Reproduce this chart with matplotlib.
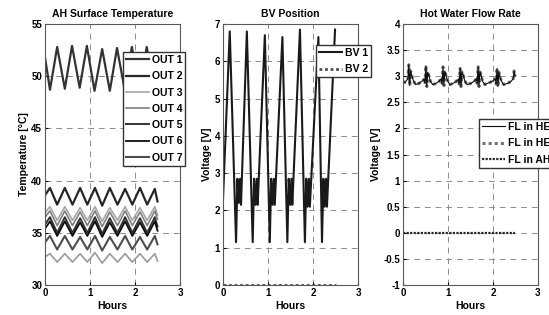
"""Tres paneles: temperatura superficial, posicion de valvulas y caudal de agua caliente."""

import matplotlib
matplotlib.use("Agg")
import matplotlib.pyplot as plt
from matplotlib.ticker import FormatStrFormatter

# --- Datos (horas / valores) ---
# Panel 1: curva superior (OUT 1), extremos de la oscilacion.
t_top = [0, 0.11, 0.27, 0.44, 0.60, 0.77, 0.93, 1.10, 1.27, 1.44, 1.60, 1.77, 1.93, 2.10, 2.26, 2.43, 2.50]
out_top = [51.8, 48.7, 52.8, 48.8, 52.9, 48.9, 52.9, 48.6, 52.6, 48.6, 52.7, 48.7, 52.8, 48.7, 52.8, 48.8, 50.0]

# Panel 1: curvas inferiores, todas en fase.
t_low = [0, 0.11, 0.27, 0.44, 0.61, 0.78, 0.94, 1.11, 1.27, 1.44, 1.61, 1.78, 1.94, 2.11, 2.27, 2.44, 2.50]
out_a = [38.6, 39.3, 37.7, 39.3, 37.7, 39.3, 37.7, 39.3, 37.6, 39.3, 37.7, 39.2, 37.7, 39.3, 37.7, 39.2, 38.0]
out_b = [36.9, 37.5, 36.2, 37.5, 36.2, 37.4, 36.2, 37.5, 36.1, 37.4, 36.2, 37.5, 36.2, 37.4, 36.2, 37.5, 36.7]
out_c = [36.5, 37.1, 35.7, 37.1, 35.7, 37.0, 35.7, 37.1, 35.6, 37.0, 35.7, 37.1, 35.7, 37.0, 35.7, 37.1, 36.3]
out_d = [35.8, 36.5, 35.0, 36.5, 35.0, 36.4, 35.0, 36.5, 34.9, 36.4, 35.0, 36.5, 35.0, 36.4, 35.0, 36.5, 35.6]
out_e = [35.4, 36.1, 34.7, 36.1, 34.7, 36.0, 34.7, 36.1, 34.6, 36.0, 34.7, 36.1, 34.7, 36.0, 34.7, 36.1, 35.2]
out_f = [34.1, 34.7, 33.4, 34.7, 33.4, 34.6, 33.4, 34.7, 33.3, 34.6, 33.4, 34.7, 33.4, 34.6, 33.4, 34.7, 33.9]
out_g = [32.7, 33.0, 32.2, 33.0, 32.2, 33.0, 32.2, 33.1, 32.1, 33.0, 32.2, 33.0, 32.2, 33.0, 32.2, 33.0, 32.3]
out_labels = ["OUT 1", "OUT 2", "OUT 3", "OUT 4", "OUT 5", "OUT 6", "OUT 7"]

# Panel 2: BV 1 (diente de sierra con pequena joroba tras cada minimo) y BV 2 en cero.
t_bv = [0, 0.15, 0.29, 0.32, 0.35, 0.38, 0.40, 0.53, 0.66, 0.69, 0.72, 0.75, 0.77, 0.93,
        1.04, 1.07, 1.10, 1.13, 1.15, 1.32, 1.43, 1.46, 1.49, 1.52, 1.54, 1.71,
        1.82, 1.85, 1.88, 1.91, 1.93, 2.12, 2.20, 2.23, 2.26, 2.29, 2.31, 2.49]
bv1 = [2.3, 6.8, 1.15, 2.85, 2.2, 2.85, 2.15, 6.8, 1.15, 2.85, 2.15, 2.85, 2.15, 6.7,
       1.15, 2.85, 2.15, 2.85, 2.15, 6.65, 1.15, 2.85, 2.15, 2.85, 2.15, 6.85,
       1.15, 2.85, 2.1, 2.85, 2.1, 6.65, 1.15, 2.85, 2.1, 2.85, 2.1, 6.85]
t_zero = [0, 2.5]
bv2 = [0, 0]

# Panel 3: caudal en HE con picos periodicos, caudal en AH en cero.
t_fl = [0, 0.04, 0.08, 0.11, 0.13, 0.15, 0.17, 0.20, 0.23, 0.28, 0.35, 0.42, 0.47, 0.49,
        0.51, 0.53, 0.55, 0.58, 0.61, 0.66, 0.73, 0.80, 0.85, 0.87, 0.89, 0.91, 0.93,
        0.96, 0.99, 1.04, 1.11, 1.18, 1.23, 1.25, 1.27, 1.29, 1.31, 1.34, 1.37, 1.42,
        1.50, 1.58, 1.63, 1.65, 1.67, 1.69, 1.71, 1.74, 1.77, 1.82, 1.90, 1.98, 2.05,
        2.07, 2.09, 2.11, 2.13, 2.16, 2.19, 2.24, 2.32, 2.40, 2.45, 2.47, 2.49]
fl_he = [2.90, 2.88, 2.92, 2.95, 3.22, 2.82, 3.10, 3.00, 2.92, 2.84, 2.86, 2.90, 2.94, 2.86,
         3.20, 2.80, 3.08, 3.00, 2.90, 2.84, 2.86, 2.90, 2.95, 2.86, 3.18, 2.82, 3.10,
         3.00, 2.92, 2.84, 2.86, 2.90, 2.94, 2.85, 3.15, 2.80, 3.08, 3.02, 2.92, 2.84,
         2.86, 2.90, 2.95, 2.86, 3.18, 2.80, 3.10, 3.00, 2.90, 2.84, 2.87, 2.90, 2.95,
         2.85, 3.15, 2.80, 3.08, 2.98, 2.90, 2.84, 2.86, 2.90, 2.95, 3.10, 3.00]
fl_ah = [0, 0]


def style_axes(ax, ylim, yticks, title, ylabel):
    """Aplica el aspecto tipo MATLAB a un panel."""
    ax.set_xlim(0, 3)
    ax.set_xticks([0, 1, 2, 3])
    ax.set_ylim(*ylim)
    ax.set_yticks(yticks)
    ax.yaxis.set_major_formatter(FormatStrFormatter("%g"))
    ax.grid(True, linestyle=(0, (6, 5)), color="0.55", linewidth=0.7)
    ax.set_axisbelow(True)
    ax.tick_params(direction="in", length=2, labelsize=7, pad=2)
    for spine in ax.spines.values():
        spine.set_color("0.35")
        spine.set_linewidth(0.8)
    ax.set_title(title, fontsize=7.5, fontweight="bold", pad=5)
    ax.set_xlabel("Hours", fontsize=7.5, fontweight="bold", labelpad=2)
    ax.set_ylabel(ylabel, fontsize=7.5, fontweight="bold", labelpad=2)


def legend_kw():
    return dict(fontsize=7.5, frameon=True, fancybox=False, edgecolor="0.2",
                framealpha=1, borderpad=0.3, handlelength=2.2, handletextpad=0.25,
                labelspacing=0.6, borderaxespad=0)


def main() -> None:
    plt.rcParams["font.family"] = ["Liberation Sans", "DejaVu Sans"]
    plt.rcParams["font.weight"] = "bold"
    plt.rcParams["axes.unicode_minus"] = False

    fig = plt.figure(figsize=(5.49, 3.15), dpi=100)
    w, h, b = 0.2459, 0.8286, 0.0952
    ax1 = fig.add_axes([0.082, b, w, h])
    ax2 = fig.add_axes([0.4062, b, w, h])
    ax3 = fig.add_axes([0.734, b, w, h])

    # --- Panel 1 ---
    series = [(t_top, out_top, "0.2", "-", 1.6),
              (t_low, out_a, "0.15", "-", 1.6),
              (t_low, out_b, "0.65", "-", 1.2),
              (t_low, out_c, "0.5", "-", 1.2),
              (t_low, out_d, "0.2", "-", 1.4),
              (t_low, out_e, "0.05", "-", 1.3),
              (t_low, out_f, "0.3", "-", 1.5),
              (t_low, out_g, "0.6", "-", 1.2)]
    lines = []
    for t, v, c, ls, lw in series:
        (ln,) = ax1.plot(t, v, color=c, linestyle=ls, linewidth=lw)
        lines.append(ln)
    style_axes(ax1, (30, 55), [30, 35, 40, 45, 50, 55], "AH Surface Temperature", "Temperature [°C]")
    ax1.legend(lines[:7], out_labels, loc="upper left", bbox_to_anchor=(0.578, 0.893), **legend_kw())

    # --- Panel 2 ---
    ax2.plot(t_bv, bv1, color="0.1", linewidth=1.5, label="BV 1")
    ax2.plot(t_zero, bv2, color="0.3", linewidth=2.0, linestyle=(0, (1, 1)), label="BV 2")
    style_axes(ax2, (0, 7), list(range(8)), "BV Position", "Voltage [V]")
    ax2.legend(loc="upper left", bbox_to_anchor=(0.689, 0.92), **legend_kw())

    # --- Panel 3 ---
    ax3.plot(t_fl, fl_he, color="0.45", linewidth=2.2, linestyle=(0, (1, 1)), label="FL in HE")
    ax3.plot(t_fl, fl_he, color="0.05", linewidth=0.8, label="FL in HE")
    ax3.plot(t_zero, fl_ah, color="0.15", linewidth=1.6, linestyle=(0, (1, 0.6)), label="FL in AH")
    style_axes(ax3, (-1, 4), [-1, -0.5, 0, 0.5, 1, 1.5, 2, 2.5, 3, 3.5, 4],
               "Hot Water Flow Rate", "Voltage [V]")
    handles, labels = ax3.get_legend_handles_labels()
    order = [1, 0, 2]
    ax3.legend([handles[i] for i in order], [labels[i] for i in order],
               loc="upper left", bbox_to_anchor=(0.563, 0.636), **legend_kw())

    fig.savefig("out.png", dpi=100)
    plt.close(fig)


if __name__ == "__main__":
    main()
